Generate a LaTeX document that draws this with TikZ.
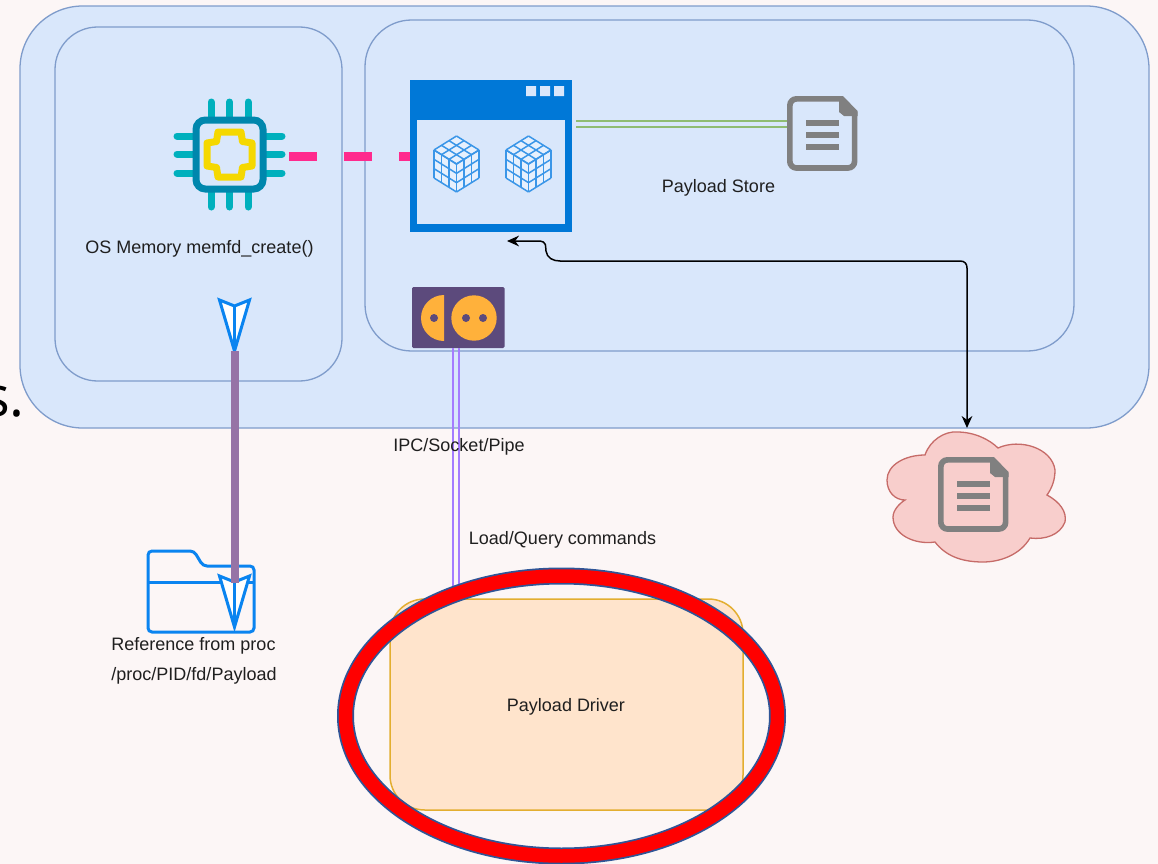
\documentclass[tikz,border=0pt]{standalone}
\usepackage{fontspec}
\setmainfont{Liberation Sans}
\newfontfamily\bigfont{Open Sans}
\usetikzlibrary{arrows.meta}
\definecolor{pagebg}{HTML}{FCF6F6}
\definecolor{boxfill}{HTML}{D9E7FB}
\definecolor{boxline}{HTML}{7F9CCB}
\definecolor{chipblue}{HTML}{0087AD}
\definecolor{chipteal}{HTML}{00B0BD}
\definecolor{chipyellow}{HTML}{F5D800}
\definecolor{winblue}{HTML}{0078D7}
\definecolor{cubeblue}{HTML}{3A96E8}
\definecolor{cubecell}{HTML}{E6F0FD}
\definecolor{docgrey}{HTML}{808080}
\definecolor{sockdark}{HTML}{5C4A7C}
\definecolor{sockorange}{HTML}{FFB13B}
\definecolor{pinkdash}{HTML}{FF2A8D}
\definecolor{greenl}{HTML}{8FBC72}
\definecolor{purplel}{HTML}{A57CFF}
\definecolor{thickp}{HTML}{9673A6}
\definecolor{arrowblue}{HTML}{0A84F0}
\definecolor{driverfill}{HTML}{FFE4CC}
\definecolor{driverline}{HTML}{E3AE30}
\definecolor{cloudfill}{HTML}{F8CECC}
\definecolor{cloudline}{HTML}{C66B68}
\definecolor{ringblue}{HTML}{2F5597}
\tikzset{
  x=0.75pt,y=-0.75pt,
  px/.style={line width={#1*0.75pt}},
  panel/.style={draw=boxline,fill=boxfill,px=1.3,outer sep=0pt},
  lbl/.style={font=\fontsize{13.5pt}{16pt}\selectfont,text=black!88,inner sep=0pt,anchor=center},
  anchorbox/.style={inner sep=0pt,outer sep=0pt,minimum width={#1},draw=none},
  kite/.pic={
    \draw[draw=arrowblue,fill=white,px=3,line join=miter] (-15,-51)--(0,-45)--(15,-51)--(0,0)--cycle;
    \draw[arrowblue,px=3] (0,-45)--(0,0);
  },
  docicon/.pic={
    \draw[docgrey,px=5.7,rounded corners=5pt,fill=none]
      (54,2.85)--(2.85,2.85)--(2.85,72)--(67.6,72)--(67.6,16);
    \fill[docgrey] (52,0)--(56,0)--(70.5,15)--(70.5,20)--(57,20)--(52,16)--cycle;
    \fill[docgrey] (18.5,24) rectangle (51.5,30);
    \fill[docgrey] (18.5,36) rectangle (51.5,42);
    \fill[docgrey] (18.5,48) rectangle (51.5,54);
  },
  cubeicon/.pic={
    \fill[cubecell] (22.5,0)--(45,14)--(45,42)--(22.5,56)--(0,42)--(0,14)--cycle;
    \begin{scope}[cubeblue,px=1.5,line join=round]
      \foreach \i in {0,1,2,3}{
        % top face
        \draw ({22.5-7.5*\i},{4.67*\i}) -- ({45-7.5*\i},{14+4.67*\i});
        \draw ({22.5+7.5*\i},{4.67*\i}) -- ({0+7.5*\i},{14+4.67*\i});
        % left face
        \draw ({7.5*\i},{14+4.67*\i}) -- ({7.5*\i},{42+4.67*\i});
        \draw (0,{14+9.33*\i}) -- (22.5,{28+9.33*\i});
        % right face
        \draw ({45-7.5*\i},{14+4.67*\i}) -- ({45-7.5*\i},{42+4.67*\i});
        \draw (45,{14+9.33*\i}) -- (22.5,{28+9.33*\i});
      }
    \end{scope}
  },
}
\begin{document}
\begin{tikzpicture}
\useasboundingbox (0,0) rectangle (1158,864);
\fill[pagebg] (0,0) rectangle (1158,864);

% stray text cut at the left edge
\node[font=\bigfont\fontsize{42pt}{48pt}\selectfont,text=black,inner sep=0pt,anchor=base east] (stray) at (25,416) {s.};

% panels
\node[panel,anchor=north west,minimum width=846.75pt,minimum height=316.5pt,rounded corners=47pt] (outer) at (20,6) {};
\node[panel,anchor=north west,minimum width=215.25pt,minimum height=265.5pt,rounded corners=32pt] (memory) at (55,27) {};
\node[panel,anchor=north west,minimum width=531.75pt,minimum height=248.25pt,rounded corners=35pt] (process) at (365,20) {};

% icon anchors
\node[anchorbox=69pt,minimum height=69pt] (chip) at (229.5,154.5) {};
\node[anchorbox=121.5pt,minimum height=114pt] (window) at (491,156) {};
\node[anchorbox=53.25pt,minimum height=56.25pt] (store) at (822.5,133.5) {};
\node[anchorbox=69pt,minimum height=45.75pt] (socket) at (458,317.5) {};
\node[anchorbox=81pt,minimum height=61.5pt] (folder) at (201,591) {};
\node[anchorbox=133.5pt,minimum height=98pt] (cloud) at (976,497) {};
\coordinate (kiteA) at (234.5,351);
\coordinate (kiteB) at (234.5,627);
\coordinate (thickEnd) at (234.5,583);

% pink connector (dashes show between chip and window)
\draw[pinkdash,px=9,dash pattern=on 21pt off 20.25pt,dash phase=31.1pt] (chip.east) ++(0,1.5) coordinate (pinkA) -- (pinkA -| window.west);

% chip
\begin{scope}[chipteal,px=7,line cap=round]
  \foreach \v in {211,229.5,248}{
    \draw (\v,102)--(\v,117);
    \draw (\v,192)--(\v,207);
  }
  \foreach \v in {136,154,173}{
    \draw (177,\v)--(193,\v);
    \draw (266,\v)--(282,\v);
  }
\end{scope}
\draw[chipblue,px=7,fill=boxfill,rounded corners=7pt] (196,120) rectangle (263,189);
\begin{scope}[shift={(229.5,154.5)}]
\draw[chipyellow,px=7,fill=boxfill,line join=round]
  (-11.5,-22.5)--(11.5,-22.5)--(13,-13)--(22.5,-11.5)--(22.5,11.5)--(13,13)--(11.5,22.5)--(-11.5,22.5)--(-13,13)--(-22.5,11.5)--(-22.5,-11.5)--(-13,-13)--cycle;
\end{scope}

% window
\fill[winblue] (410,80) rectangle (572,232);
\fill[boxfill] (417,120) rectangle (565,224);
\fill[boxfill] (526,86) rectangle (536,96) (540,86) rectangle (550,96) (554,86) rectangle (564,96);
\pic at (434,136) {cubeicon};
\pic at (506,136) {cubeicon};

% document in the store
\pic at (787,96) {docicon};

% green connector
\draw[greenl,px=2] (window.east) ++(4,-35) coordinate (greenA) -- (greenA -| store.west);
\draw[greenl,px=2] (window.east) ++(4,-29) coordinate (greenB) -- (greenB -| store.west);

% socket
\fill[sockdark,rounded corners=1pt] (412,287) rectangle (504.5,348);
\fill[sockorange] (444,295) arc (270:90:23) -- cycle;
\fill[sockorange] (474,318) circle (22.7);
\fill[sockdark] (434,318) circle (4) (466,318) circle (4) (483,318) circle (4);

% cloud
\draw[cloudline,fill=cloudfill,px=1.3]
  (925,455) .. controls (930,440) and (945,431) .. (957,432)
  .. controls (975,432) and (990,440) .. (998,448)
  .. controls (1020,438) and (1052,448) .. (1055,470)
  .. controls (1055,480) and (1052,488) .. (1047,495)
  .. controls (1060,502) and (1067,512) .. (1065,522)
  .. controls (1060,535) and (1045,540) .. (1030,538)
  .. controls (1020,555) and (1000,562) .. (983,562)
  .. controls (960,562) and (945,555) .. (935,542)
  .. controls (915,545) and (893,535) .. (893,517)
  .. controls (893,510) and (900,503) .. (905,500)
  .. controls (895,500) and (887,492) .. (887,480)
  .. controls (887,465) and (905,455) .. (925,455) -- cycle;
\pic at (938,457) {docicon};

% folder
\draw[arrowblue,px=3,rounded corners=3pt] (148,632)--(148,551)--(194,551)--(203,566)--(254,566)--(254,632)--cycle;
\draw[arrowblue,px=3] (148,582)--(254,582);

% driver
\node[anchor=north west,draw=driverline,fill=driverfill,px=1.5,outer sep=0pt,minimum width=264.75pt,minimum height=158.25pt,rounded corners=26pt] (driver) at (390,599) {};

% purple IPC connector
\draw[purplel,px=2] (socket.south) ++(-5,0) coordinate (ipcA) -- (ipcA |- driver.north);
\draw[purplel,px=2] (socket.south) ++(0.5,0) coordinate (ipcB) -- (ipcB |- driver.north);

% red ring
\draw[ringblue,px=17] (561.5,716) ellipse (216 and 140);
\draw[red,px=13.5] (561.5,716) ellipse (216 and 140);

% kites and thick connector
\pic at (kiteA) {kite};
\pic at (kiteB) {kite};
\draw[thickp,px=8] (kiteA) -- (thickEnd);

% black connector
\draw[black,px=1.5,{Stealth[length=9pt,width=8pt]}-{Stealth[length=9pt,width=8pt]}]
  (507,241) coordinate (conA) -- (538,241) .. controls (548,241) and (545,247) .. (546,251)
  .. controls (547,258) and (553,261) .. (560,261) -- (960,261)
  .. controls (965,261) and (967,264) .. (967,268) -- (967,428) coordinate (conB);

% labels
\node[lbl] (memlabel) at (199.5,249) {OS Memory memfd\_create()};
\node[lbl] (storelabel) at (718.5,188) {Payload Store};
\node[lbl] (ipclabel) at (459,447) {IPC/Socket/Pipe};
\node[lbl] (loadlabel) at (562.5,540) {Load/Query commands};
\node[lbl] (reflabel) at (193.5,646) {Reference from proc};
\node[lbl] (pathlabel) at (194,676) {/proc/PID/fd/Payload};
\node[lbl] (driverlabel) at (566,707) {Payload Driver};
\end{tikzpicture}
\end{document}
